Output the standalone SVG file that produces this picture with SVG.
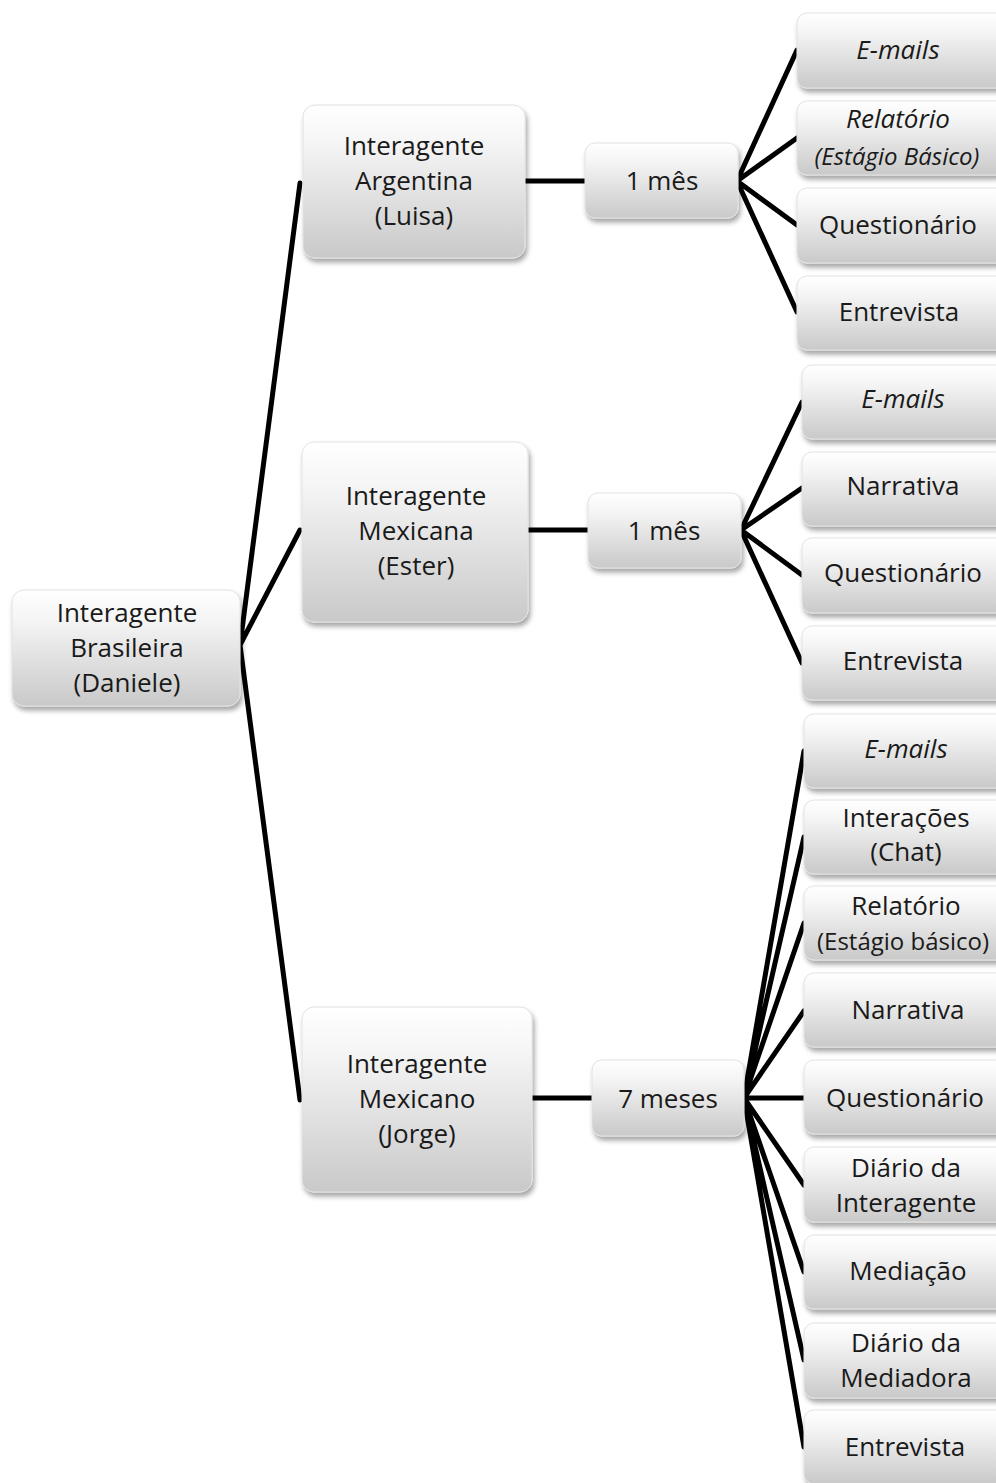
<svg xmlns="http://www.w3.org/2000/svg" width="996" height="1483" viewBox="0 0 996 1483">
<defs>
<linearGradient id="g" x1="0" y1="0" x2="0" y2="1">
<stop offset="0" stop-color="#ffffff"/>
<stop offset="0.25" stop-color="#f5f5f5"/>
<stop offset="1" stop-color="#c9c9c9"/>
</linearGradient>
<filter id="sh" x="-10%" y="-10%" width="125%" height="130%">
<feDropShadow dx="2" dy="4" stdDeviation="2.5" flood-color="#000" flood-opacity="0.35"/>
</filter>
</defs>
<style>
.box{fill:url(#g);stroke:#e2e2e2;stroke-width:1;filter:url(#sh)}
text{font-family:"Open Sans","Noto Sans",sans-serif;font-size:26px;fill:#1a1a1a;text-anchor:middle}
.it{font-style:italic}
.sm{font-size:24px}
.c path{stroke:#000;stroke-width:5;fill:none;stroke-linecap:round;stroke-linejoin:round}
</style>
<rect width="996" height="1483" fill="#fff"/>
<g class="c" id="connectors">
<path d="M240 645 L300 183 M240 645 L300 530 M240 645 L300 1100"/>
<path d="M525 181 L585 181 M528 530 L588 530 M532 1098 L592 1098"/>
<path d="M797 50 L737 181 L797 138 M737 181 L797 225 M737 181 L797 312"/>
<path d="M802 402 L741 530 L802 488 M741 530 L802 575 M741 530 L802 663"/>
<path d="M804 751 L744 1098 L804 837 M744 1098 L804 923 M744 1098 L804 1011 M744 1098 L804 1098 M744 1098 L804 1185 M744 1098 L804 1272 M744 1098 L804 1360 M744 1098 L804 1447"/>
</g>
<g id="n-daniele"><rect class="box" x="12" y="590" width="228" height="116" rx="12"/>
<text x="127" y="622">Interagente</text><text x="127" y="657">Brasileira</text><text x="127" y="692">(Daniele)</text></g>
<g id="n-luisa"><rect class="box" x="303" y="105" width="222" height="153" rx="12"/>
<text x="414" y="155">Interagente</text><text x="414" y="190">Argentina</text><text x="414" y="225">(Luisa)</text></g>
<g id="n-ester"><rect class="box" x="302" y="442" width="226" height="180" rx="12"/>
<text x="416" y="505">Interagente</text><text x="416" y="540">Mexicana</text><text x="416" y="575">(Ester)</text></g>
<g id="n-jorge"><rect class="box" x="302" y="1007" width="230" height="185" rx="12"/>
<text x="417" y="1073">Interagente</text><text x="417" y="1108">Mexicano</text><text x="417" y="1143">(Jorge)</text></g>
<g id="t-luisa"><rect class="box" x="585" y="143" width="153" height="75" rx="10"/><text x="662" y="190">1 mês</text></g>
<g id="t-ester"><rect class="box" x="588" y="493" width="153" height="75" rx="10"/><text x="664" y="540">1 mês</text></g>
<g id="t-jorge"><rect class="box" x="592" y="1060" width="152" height="76" rx="10"/><text x="668" y="1108">7 meses</text></g>
<g id="l1-emails"><rect class="box" x="797" y="13" width="210" height="75" rx="10"/><text class="it" x="898" y="59">E-mails</text></g>
<g id="l1-relatorio"><rect class="box" x="797" y="101" width="210" height="74" rx="10"/><text class="it" x="898" y="128">Relatório</text><text class="it sm" x="897" y="165">(Estágio Básico)</text></g>
<g id="l1-quest"><rect class="box" x="797" y="188" width="210" height="75" rx="10"/><text x="898" y="234">Questionário</text></g>
<g id="l1-entrev"><rect class="box" x="797" y="276" width="210" height="74" rx="10"/><text x="899" y="321">Entrevista</text></g>
<g id="l2-emails"><rect class="box" x="802" y="365" width="210" height="74" rx="10"/><text class="it" x="903" y="408">E-mails</text></g>
<g id="l2-narr"><rect class="box" x="802" y="452" width="210" height="74" rx="10"/><text x="903" y="495">Narrativa</text></g>
<g id="l2-quest"><rect class="box" x="802" y="538" width="210" height="75" rx="10"/><text x="903" y="582">Questionário</text></g>
<g id="l2-entrev"><rect class="box" x="802" y="626" width="210" height="74" rx="10"/><text x="903" y="670">Entrevista</text></g>
<g id="l3-emails"><rect class="box" x="804" y="714" width="210" height="74" rx="10"/><text class="it" x="906" y="758">E-mails</text></g>
<g id="l3-inter"><rect class="box" x="804" y="800" width="210" height="74" rx="10"/><text x="906" y="827">Interações</text><text x="906" y="861">(Chat)</text></g>
<g id="l3-relat"><rect class="box" x="804" y="886" width="210" height="74" rx="10"/><text x="906" y="915">Relatório</text><text class="sm" x="903" y="950">(Estágio básico)</text></g>
<g id="l3-narr"><rect class="box" x="804" y="973" width="210" height="74" rx="10"/><text x="908" y="1019">Narrativa</text></g>
<g id="l3-quest"><rect class="box" x="804" y="1060" width="210" height="74" rx="10"/><text x="905" y="1107">Questionário</text></g>
<g id="l3-diario-i"><rect class="box" x="804" y="1147" width="210" height="75" rx="10"/><text x="906" y="1177">Diário da</text><text x="906" y="1212">Interagente</text></g>
<g id="l3-mediacao"><rect class="box" x="804" y="1235" width="210" height="74" rx="10"/><text x="908" y="1280">Mediação</text></g>
<g id="l3-diario-m"><rect class="box" x="804" y="1323" width="210" height="75" rx="10"/><text x="906" y="1352">Diário da</text><text x="906" y="1387">Mediadora</text></g>
<g id="l3-entrev"><rect class="box" x="804" y="1410" width="210" height="74" rx="10"/><text x="905" y="1456">Entrevista</text></g>
</svg>
